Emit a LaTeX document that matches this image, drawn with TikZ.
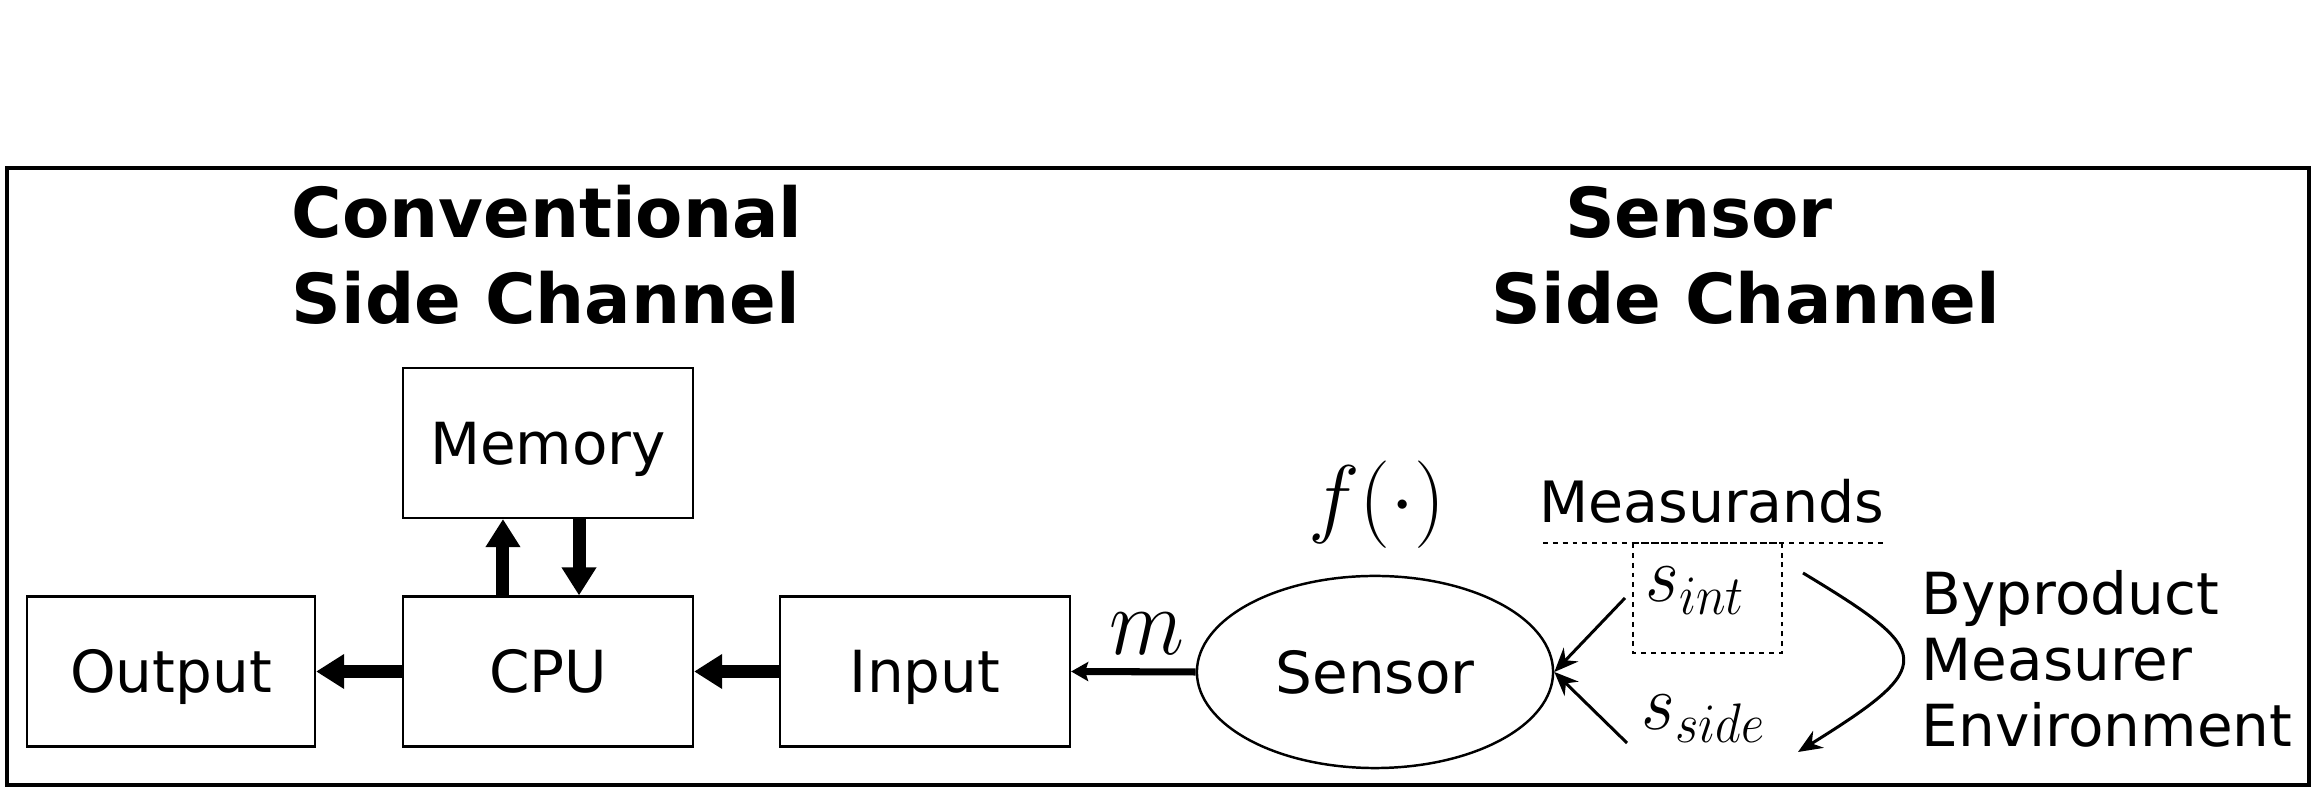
\documentclass[tikz,border=0pt]{standalone}
\usepackage{fontspec}
\setmainfont{DejaVu Sans}
\usetikzlibrary{arrows.meta,shapes.geometric}
\begin{document}
\begin{tikzpicture}[x=0.01cm,y=-0.01cm,
  box/.style={draw,line width=0.6pt,minimum width=2.9cm,minimum height=1.5cm,inner sep=0pt,text height=12pt,text depth=0pt,font=\fontsize{16.5}{19}\selectfont},
  bigarrow/.style={line width=3.7pt,-{Triangle[length=0.28cm,width=0.33cm]}},
  marrow/.style={line width=2pt,-{Stealth[length=0.17cm,width=0.19cm,inset=0.03cm]}},
  thinarrow/.style={line width=0.85pt,-{Stealth[length=0.24cm,width=0.2cm]}},
  lbl/.style={inner sep=0pt,font=\fontsize{16.5}{19}\selectfont},
  ttl/.style={inner sep=0pt,font=\fontsize{19.6}{24}\selectfont\bfseries},
  mth/.style={inner sep=0pt},
  dotl/.style={line width=0.6pt,dash pattern=on 1.4pt off 1.4pt}]
\useasboundingbox (0,0) rectangle (2317,795);
\draw[line width=1.1pt] (7,168) rectangle (2309,785);
% titles
\node[ttl,anchor=base] (conv1) at (547,238) {Conventional};
\node[ttl,anchor=base] (conv2) at (546,324) {Side Channel};
\node[ttl,anchor=base] (sens1) at (1699,238) {Sensor};
\node[ttl,anchor=base] (sens2) at (1746,324) {Side Channel};
% boxes
\node[box,minimum width=2.88cm] (out) at (171,671.5) {Output};
\node[box] (cpu) at (548,671.5) {CPU};
\node[box] (inp) at (925,671.5) {Input};
\node[box] (mem) at (548,443) {Memory};
\draw[bigarrow] (cpu.west) -- (out.east);
\draw[bigarrow] (inp.west) -- (cpu.east);
\draw[bigarrow] ([xshift=-0.45cm]cpu.north) -- ([xshift=-0.45cm]mem.south);
\draw[bigarrow] ([xshift=0.31cm]mem.south) -- ([xshift=0.31cm]cpu.north);
% sensor
\node[draw,ellipse,line width=0.7pt,minimum width=3.56cm,minimum height=1.92cm,inner sep=0pt,text height=12pt,text depth=0pt,font=\fontsize{16.5}{19}\selectfont] (sensor) at (1375,672) {Sensor};
\draw[marrow] (sensor.west) -- (inp.east);
\node[mth,anchor=base,font=\fontsize{24}{28}\selectfont] (mlbl) at (1147,655) {\scalebox{1}[1.1]{$m$}};
\node[mth,anchor=base,font=\fontsize{25}{30}\selectfont] (flbl) at (1377,527) {$f(\cdot)$};
% measurands
\node[lbl,anchor=base,font=\fontsize{16.2}{19}\selectfont] (meas) at (1712,523) {Measurands};
\coordinate (dl1) at (1543,543);
\coordinate (dl2) at (1885,543);
\draw[dotl] (dl1) -- (dl2);
\coordinate (db1) at (1633,543);
\coordinate (db2) at (1782,653);
\draw[dotl] (db1) rectangle (db2);
\node[mth,anchor=base west,font=\fontsize{21.5}{25}\selectfont] (sint) at (1645,602) {\scalebox{1}[1.1]{$s_{int}$}};
\node[mth,anchor=base west,font=\fontsize{21.5}{25}\selectfont] (sside) at (1641,730) {\scalebox{1}[1.1]{$s_{side}$}};
\coordinate (a1) at (1625,598);
\coordinate (a2) at (1627,743);
\draw[thinarrow] (a1) -- (sensor.east);
\draw[thinarrow] (a2) -- (sensor.east);
\coordinate (c1) at (1803,573);
\coordinate (c2) at (1798,752);
\draw[thinarrow] (c1) .. controls (1934,652) and (1938,665) .. (c2);
% byproduct list
\node[lbl,anchor=base west] (byp) at (1921,615) {Byproduct};
\node[lbl,anchor=base west] (msr) at (1921,681) {Measurer};
\node[lbl,anchor=base west] (env) at (1921,747) {Environment};
\end{tikzpicture}
\end{document}
